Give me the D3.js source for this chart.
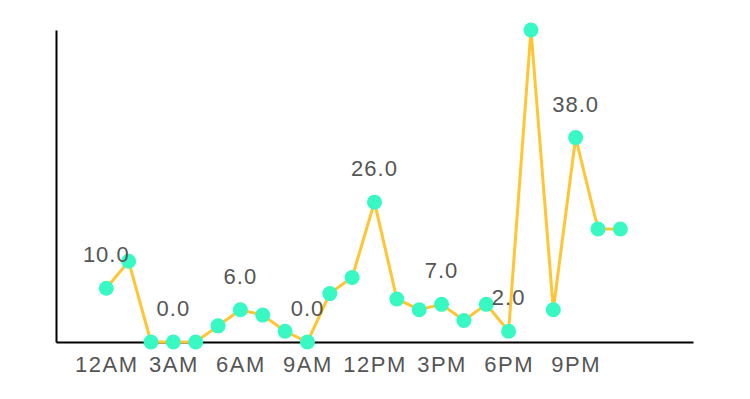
<!DOCTYPE html>
<html>
  <script src="https://d3js.org/d3.v7.min.js" type="text/JavaScript"></script>
  <style>
    body { margin: 0; background: #fff; }
    text { font-family: "Liberation Sans", Arial, sans-serif; fill: #555; }
  </style>
  <body>
    <svg></svg>
    <script>
var hours = d3.range(24);
var counts = [10, 15, 0, 0, 0, 3, 6, 5, 2, 0, 9, 12, 26, 8, 6, 7, 4, 7, 2, 58, 6, 38, 21, 21];
var tickHours = [0, 3, 6, 9, 12, 15, 18, 21];
var tickLabels = ['12AM', '3AM', '6AM', '9AM', '12PM', '3PM', '6PM', '9PM'];

var width = 750, height = 399;

var svg = d3.select('svg')
  .attr('width', width)
  .attr('height', height);

var xScale = d3.scaleLinear().domain([-2.25, 26.25]).range([56, 693]);
var yScale = d3.scaleLinear().domain([0, 58]).range([342, 30]);

var data = hours.map((h, i) => ({ hour: h, count: counts[i] }));

// axes
var xAxis = d3.axisBottom(xScale)
  .tickValues(tickHours)
  .tickFormat((d, i) => tickLabels[i])
  .tickSize(0)
  .tickSizeOuter(0)
  .tickPadding(10);

svg.append('g')
  .attr('transform', 'translate(0,' + yScale(0) + ')')
  .call(xAxis)
  .call(g => g.select('.domain').attr('stroke', '#000').attr('stroke-width', 2))
  .call(g => g.selectAll('text')
    .attr('dy', null)
    .attr('y', 30)
    .style('font-size', '22px')
    .style('letter-spacing', '1.5px')
    .style('font-family', '"Liberation Sans", Arial, sans-serif')
    .attr('fill', '#555'));

svg.append('g')
  .attr('transform', 'translate(' + xScale.range()[0] + ',0)')
  .call(d3.axisLeft(yScale).tickValues([]).tickSizeOuter(0))
  .call(g => g.select('.domain').attr('stroke', '#000').attr('stroke-width', 2));

// line
var line = d3.line()
  .x(d => xScale(d.hour))
  .y(d => yScale(d.count));

svg.append('path')
  .datum(data)
  .attr('d', line)
  .attr('fill', 'none')
  .attr('stroke', '#ffc533')
  .attr('stroke-width', 3);

// points
svg.selectAll('circle')
  .data(data)
  .enter()
  .append('circle')
    .attr('cx', d => xScale(d.hour))
    .attr('cy', d => yScale(d.count))
    .attr('r', 7.5)
    .style('fill', '#38f8c4');

// value labels every 3 hours
svg.selectAll('.val')
  .data(data.filter(d => tickHours.includes(d.hour)))
  .enter()
  .append('text')
    .attr('class', 'val')
    .attr('x', d => xScale(d.hour))
    .attr('y', d => yScale(d.count) - 26)
    .attr('text-anchor', 'middle')
    .style('font-size', '22px')
    .style('letter-spacing', '1px')
    .text(d => d.count.toFixed(1));
    </script>
  </body>
</html>
